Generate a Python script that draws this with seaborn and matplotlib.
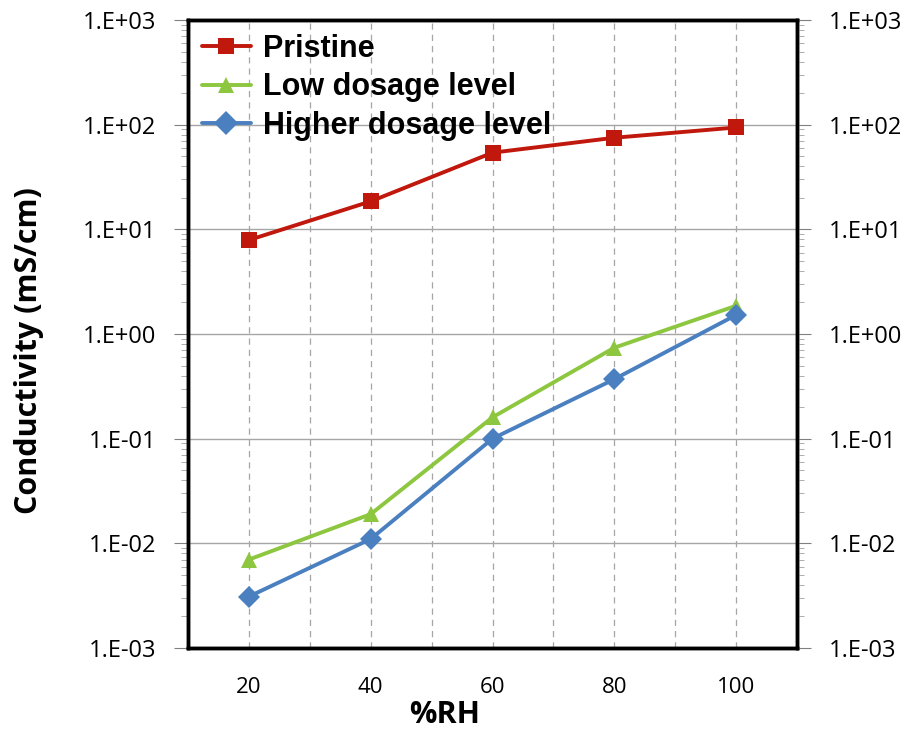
import matplotlib
matplotlib.use("Agg")
import matplotlib.pyplot as plt
import matplotlib.ticker as mticker
import seaborn as sns
import pandas as pd
import numpy as np

rh = [20, 40, 60, 80, 100]
pristine = [7.9, 18.5, 54.0, 75.0, 94.0]
low_dose = [0.0070, 0.019, 0.16, 0.74, 1.86]
high_dose = [0.0031, 0.011, 0.10, 0.37, 1.52]
series_names = ["Pristine", "Low dosage level", "Higher dosage level"]
ytick_vals = [1e-3, 1e-2, 1e-1, 1e0, 1e1, 1e2, 1e3]
ytick_labels = ["1.E-03", "1.E-02", "1.E-01", "1.E+00", "1.E+01", "1.E+02", "1.E+03"]

df = pd.DataFrame({
    "RH": rh * 3,
    "val": pristine + low_dose + high_dose,
    "series": [series_names[0]] * 5 + [series_names[1]] * 5 + [series_names[2]] * 5,
})

sns.set_style("white")
plt.rcParams["text.color"] = "black"
plt.rcParams["axes.labelcolor"] = "black"
plt.rcParams["xtick.color"] = "black"
plt.rcParams["ytick.color"] = "black"

fig = plt.figure(figsize=(9.08, 7.29), dpi=100)
ax = fig.add_axes([188/908, 1-648/729, (797-188)/908, (648-20)/729])

palette = {series_names[0]: "#C0180C", series_names[1]: "#8DC63F", series_names[2]: "#4A7FC0"}
markers = {series_names[0]: "s", series_names[1]: "^", series_names[2]: "D"}
sns.lineplot(data=df, x="RH", y="val", hue="series", style="series", palette=palette,
             markers=markers, dashes=False, markersize=11, linewidth=2.8, ax=ax,
             markeredgewidth=0, zorder=3)

tick_font = {"family": "Open Sans", "size": 17}

ax.set_yscale("log")
ax.set_ylim(1e-3, 1e3)
ax.set_xlim(10, 110)
ax.set_yticks(ytick_vals)
ax.set_yticklabels(ytick_labels, fontdict=tick_font)
ax.yaxis.set_minor_locator(mticker.LogLocator(base=10, subs=np.arange(2, 10)))
ax.yaxis.set_minor_formatter(mticker.NullFormatter())
ax.set_xticks(rh)
ax.set_xticklabels([str(v) for v in rh], fontsize=16, family="Open Sans")
ax.xaxis.set_minor_locator(mticker.MultipleLocator(10))

ax.grid(True, which="major", axis="y", color="#A6A6A6", linewidth=1)
ax.grid(True, which="both", axis="x", color="#A6A6A6", linestyle=(0, (5, 4)), linewidth=0.9)
ax.tick_params(axis="y", which="major", direction="out", length=10, color="#808080", left=True, pad=13,
               labelcolor="black")
ax.tick_params(axis="y", which="minor", direction="out", length=5, color="#A0A0A0", left=True)
ax.tick_params(axis="x", which="both", length=0, pad=21, labelcolor="black")

for s in ax.spines.values():
    s.set_color("black")
    s.set_linewidth(2.5)

ax.set_xlabel("%RH", fontsize=22, fontweight="bold", family="Open Sans", labelpad=0)
ax.xaxis.set_label_coords((445-188)/609, -(715-648)/628, transform=ax.transAxes)
ax.xaxis.label.set_verticalalignment("center")
ax.set_ylabel("Conductivity (mS/cm)", fontsize=22, fontweight="bold", family="Open Sans")
ax.yaxis.set_label_coords(-(188-29)/609, 1-(351-20)/628, transform=ax.transAxes)
ax.yaxis.label.set_verticalalignment("center")

ax2 = ax.twinx()
ax2.set_yscale("log")
ax2.set_ylim(1e-3, 1e3)
ax2.set_yticks(ytick_vals)
ax2.set_yticklabels(ytick_labels, fontdict=tick_font)
ax2.yaxis.set_minor_locator(mticker.LogLocator(base=10, subs=np.arange(2, 10)))
ax2.yaxis.set_minor_formatter(mticker.NullFormatter())
ax2.tick_params(axis="y", which="major", direction="out", length=10, color="#808080", pad=13,
                labelcolor="black")
ax2.tick_params(axis="y", which="minor", direction="out", length=5, color="#A0A0A0")
for s in ax2.spines.values():
    s.set_color("black")
    s.set_linewidth(2.5)

leg = ax.legend(loc="upper left", frameon=False,
                prop={"family": "Liberation Sans", "weight": "bold", "size": 22},
                handlelength=1.6, borderaxespad=0.0, borderpad=0.45, labelspacing=0.28,
                handletextpad=0.4)
for line in leg.get_lines():
    line.set_markersize(12)

fig.savefig("out.png", dpi=100)
